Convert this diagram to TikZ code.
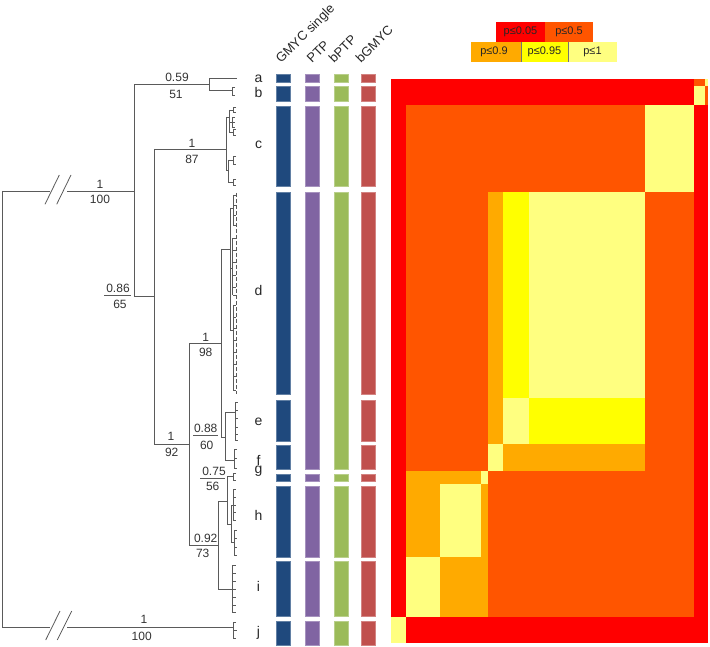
\documentclass[tikz,border=0pt]{standalone}
\usepackage{fontspec}
\setmainfont{Liberation Sans}
\definecolor{pRed}{HTML}{FF0000}
\definecolor{pOR}{HTML}{FF5500}
\definecolor{pOr}{HTML}{FFAA00}
\definecolor{pYe}{HTML}{FFFF00}
\definecolor{pLY}{HTML}{FFFF80}
\definecolor{bBlue}{HTML}{1F497D}
\definecolor{bPurp}{HTML}{8064A2}
\definecolor{bGreen}{HTML}{9BBB59}
\definecolor{bRed}{HTML}{C0504D}
\definecolor{treec}{HTML}{5A5A5A}
\newcommand\tipb[3]{\draw[tree] (#1+3,#2) -- (#1,#2) -- (#1,#3) -- (#1+3,#3);}
\newcommand\bseg[4]{\fill[#1, draw=#1!70!white, line width=0.5pt] (#2,#3) rectangle (#2+14,#4);}
\begin{document}
\begin{tikzpicture}[x=1pt,y=-1pt,
  tree/.style={draw=treec, line width=0.8pt},
  sup/.style={font=\fontsize{12}{14}\selectfont, text=black!80, inner sep=0pt},
  tip/.style={font=\fontsize{14}{16}\selectfont, text=black!85, inner sep=0pt, anchor=base},
  hdr/.style={font=\fontsize{13}{15}\selectfont, text=black!85, inner sep=0pt, anchor=base west, rotate=45},
  leg/.style={font=\fontsize{11}{13}\selectfont, text=black!85, inner sep=0pt}]
\useasboundingbox (0,0) rectangle (710,647);

% ---------------- legend ----------------
\fill[pRed] (496,21.7) rectangle (545,41.7);
\fill[pOR] (545,21.7) rectangle (593,41.7);
\fill[pOr] (471,41.7) rectangle (521,61.7);
\fill[pYe] (521,41.7) rectangle (568,61.7);
\fill[pLY] (568,41.7) rectangle (617,61.7);
\draw[black!55, line width=0.6pt] (521,41.7) -- (521,61.7);
\draw[black!55, line width=0.6pt] (568,41.7) -- (568,61.7);
\node[leg] (l1) at (520.5,31.7) {p≤0.05};
\node[leg] (l2) at (569,31.7) {p≤0.5};
\node[leg] (l3) at (494,51.7) {p≤0.9};
\node[leg] (l4) at (544.5,51.7) {p≤0.95};
\node[leg] (l5) at (592.5,51.7) {p≤1};

% ---------------- heatmap ----------------
\fill[pRed] (391,79) rectangle (708.3,643.3);
\fill[pOR] (406,105) rectangle (694,616.7);
% rows a,b
\fill[pOR] (694,79) rectangle (705,85.7);
\fill[pLY] (705,79) rectangle (708.3,85.7);
\fill[pLY] (694,85.7) rectangle (705,105);
\fill[pOR] (705,85.7) rectangle (708.3,105);
% row c
\fill[pLY] (645,105) rectangle (694,191.7);
% row d
\fill[pOr] (488.3,191.7) rectangle (503.3,397.7);
\fill[pYe] (503.3,191.7) rectangle (529.3,397.7);
\fill[pLY] (529.3,191.7) rectangle (645,397.7);
% row e
\fill[pOr] (488.3,397.7) rectangle (503.3,444.3);
\fill[pLY] (503.3,397.7) rectangle (529.3,444.3);
\fill[pYe] (529.3,397.7) rectangle (645,444.3);
% row f
\fill[pLY] (488.3,444.3) rectangle (503.3,470.7);
\fill[pOr] (503.3,444.3) rectangle (645,470.7);
% row g
\fill[pOr] (406,470.7) rectangle (480.7,484);
\fill[pLY] (480.7,470.7) rectangle (488.3,484);
% row h
\fill[pOr] (406,484) rectangle (439.7,557.3);
\fill[pLY] (439.7,484) rectangle (480.7,557.3);
\fill[pOr] (480.7,484) rectangle (488.3,557.3);
% row i
\fill[pLY] (406,557.3) rectangle (439.7,616.7);
\fill[pOr] (439.7,557.3) rectangle (488.3,616.7);
% row j
\fill[pLY] (391,616.7) rectangle (406,643.3);

% ---------------- bars ----------------
\foreach \c/\x in {bBlue/276,bRed/361}{
  \bseg{\c}{\x}{74}{82.3}
  \bseg{\c}{\x}{86}{101}
  \bseg{\c}{\x}{106}{186.7}
  \bseg{\c}{\x}{192.7}{394}
  \bseg{\c}{\x}{400}{441}
  \bseg{\c}{\x}{445.7}{469}
  \bseg{\c}{\x}{474}{481.7}
  \bseg{\c}{\x}{486}{557.7}
  \bseg{\c}{\x}{561.7}{616.7}
  \bseg{\c}{\x}{621}{645.7}
}
\foreach \c/\x in {bPurp/305.5,bGreen/334}{
  \bseg{\c}{\x}{74}{82.3}
  \bseg{\c}{\x}{86}{101}
  \bseg{\c}{\x}{106}{186.7}
  \bseg{\c}{\x}{192.7}{469}
  \bseg{\c}{\x}{474}{481.7}
  \bseg{\c}{\x}{486}{557.7}
  \bseg{\c}{\x}{561.7}{616.7}
  \bseg{\c}{\x}{621}{645.7}
}

% ---------------- headers ----------------
\node[hdr] (h1) at (281,64) {GMYC single};
\node[hdr] (h2) at (312,64) {PTP};
\node[hdr] (h3) at (334,64) {bPTP};
\node[hdr] (h4) at (361,64) {bGMYC};

% ---------------- tip labels ----------------
\node[tip] (ta) at (258.5,82.3) {a};
\node[tip] (tb) at (258.5,98) {b};
\node[tip] (tc) at (258.5,149) {c};
\node[tip] (td) at (258.5,296) {d};
\node[tip] (te) at (258.5,425.7) {e};
\node[tip] (tf) at (258.5,465) {f};
\node[tip] (tg) at (258.5,473) {g};
\node[tip] (th) at (258.5,520) {h};
\node[tip] (ti) at (258.5,591.7) {i};
\node[tip] (tj) at (258.5,636) {j};

% ---------------- tree ----------------
% root
\draw[tree] (2,191) -- (2,627.5);
\draw[tree] (2,191) -- (50,191);
\draw[tree] (67,191) -- (134,191);
\draw[tree] (45,204.3) -- (59.3,175);
\draw[tree] (56.7,204.3) -- (71,175);
\draw[tree] (2,627.5) -- (50,627.5);
\draw[tree] (67,627.5) -- (233,627.5);
\draw[tree] (45.7,640) -- (60,611);
\draw[tree] (57.3,640) -- (71.7,611);
% main nodes
\draw[tree] (134,84.3) -- (134,296);
\draw[tree] (134,84.3) -- (209,84.3);
\draw[tree] (209,78.3) -- (209,90.7);
\draw[tree] (134,296) -- (154,296);
\draw[tree] (154,149) -- (154,444);
\draw[tree] (154,149) -- (226,149);
\draw[tree] (154,444) -- (189,444);
\draw[tree] (189,343) -- (189,545);
\draw[tree] (189,343) -- (221,343);
\draw[tree] (221,249) -- (221,437);
\draw[tree] (221,249) -- (230,249);
\draw[tree] (221,437) -- (225,437);
\draw[tree] (225,412) -- (225,460);
\draw[tree] (189,545) -- (218,545);
\draw[tree] (218,501) -- (218,589);
\draw[tree] (218,501) -- (227,501);
\draw[tree] (227,476.7) -- (227,524);
\draw[tree] (218,589) -- (232,589);
% clade a, b
\draw[tree] (209,78.3) -- (237,78.3);
\draw[tree] (209,90.7) -- (232,90.7);
\tipb{232}{87}{95}
% clade c
\draw[tree] (226,117) -- (226,170);
\draw[tree] (226,117) -- (229,117);
\draw[tree] (229,110) -- (229,132);
\draw[tree] (229,110) -- (233,110); \tipb{233}{107}{112}
\draw[tree] (229,122) -- (232,122); \tipb{232}{117}{127}
\draw[tree] (232,122) -- (235,122);
\draw[tree] (229,132) -- (233,132); \tipb{233}{129}{135}
\draw[tree] (226,170) -- (228,170);
\draw[tree] (228,160) -- (228,182);
\draw[tree] (228,160) -- (233,160); \tipb{233}{156}{164}
\draw[tree] (228,182) -- (233,182); \tipb{233}{179}{185}
% clade d
\draw[tree] (230,208) -- (230,330);
\draw[tree] (230,208) -- (233,208);
\draw[tree] (233,195) -- (233,225);
\draw[tree] (230,268) -- (232,268);
\draw[tree] (232,238) -- (232,295);
\draw[tree] (230,330) -- (233,330);
\draw[tree] (233,305) -- (233,390);
\draw[tree, dash pattern=on 4pt off 2pt] (236,193) -- (236,394);
\foreach \yy in {195,205,215,225,238,250,262,275,287,295,305,317,328,340,352,364,376,390}{
  \draw[tree] (233,\yy) -- (236,\yy);
}
% clade e
\draw[tree] (225,412) -- (235,412);
\draw[tree] (235,402) -- (235,440);
\foreach \yy in {402,410,418,427,434,440}{\draw[tree] (235,\yy) -- (238,\yy);}
% clade f
\draw[tree] (225,460) -- (234,460);
\tipb{234}{449}{468}
\draw[tree] (234,458) -- (237,458);
% clade g
\draw[tree] (227,476.7) -- (233,476.7);
\tipb{233}{473}{480}
% clade h
\draw[tree] (227,524) -- (231,524);
\draw[tree] (231,505) -- (231,542);
\draw[tree] (231,505) -- (233,505);
\draw[tree] (233,489) -- (233,520);
\foreach \yy in {489,497,505,512,520}{\draw[tree] (233,\yy) -- (236,\yy);}
\draw[tree] (231,542) -- (234,542);
\draw[tree] (234,530) -- (234,555);
\foreach \yy in {530,538,547,555}{\draw[tree] (234,\yy) -- (237,\yy);}
% clade i
\draw[tree] (232,565) -- (232,612);
\foreach \yy in {565,573,581,589,597,605,612}{\draw[tree] (232,\yy) -- (236,\yy);}
% clade j
\tipb{233}{622}{638}
\draw[tree] (233,630) -- (237,630);

% ---------------- support labels ----------------
\node[sup] (s1a) at (177,77) {0.59};
\node[sup] (s1b) at (176,94.5) {51};
\node[sup] (s2a) at (192,143) {1};
\node[sup] (s2b) at (192,159) {87};
\node[sup] (s3a) at (100,184) {1};
\node[sup] (s3b) at (100,199.5) {100};
\node[sup] (s4a) at (118,288.5) {0.86};
\node[sup] (s4b) at (120,304.5) {65};
\draw[tree] (104,295) -- (131,295);
\node[sup] (s5a) at (171,436.5) {1};
\node[sup] (s5b) at (171.7,452) {92};
\node[sup] (s6a) at (205.7,337) {1};
\node[sup] (s6b) at (205.7,352) {98};
\node[sup] (s7a) at (205.7,428) {0.88};
\node[sup] (s7b) at (206.7,445) {60};
\draw[tree] (193,435) -- (218,435);
\node[sup] (s8a) at (214,471.5) {0.75};
\node[sup] (s8b) at (212.7,486) {56};
\draw[tree] (200,478) -- (225,478);
\node[sup] (s9a) at (205.7,538.5) {0.92};
\node[sup] (s9b) at (202.7,553) {73};
\node[sup] (s10a) at (144,619) {1};
\node[sup] (s10b) at (141.7,636) {100};
\end{tikzpicture}
\end{document}
